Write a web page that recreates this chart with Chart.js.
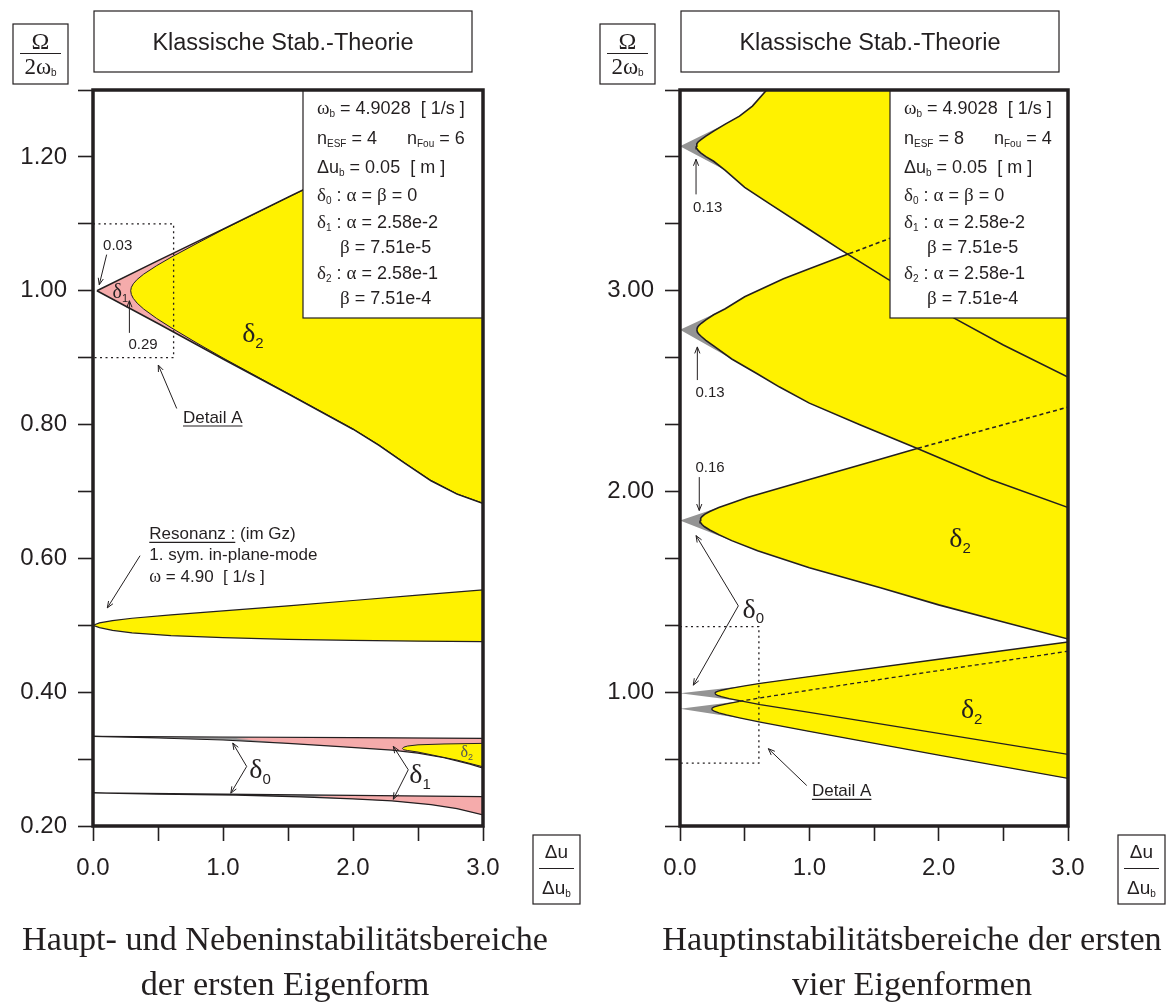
<!DOCTYPE html>
<html>
<head>
<meta charset="utf-8">
<script src="https://cdn.jsdelivr.net/npm/chart.js@4.4.0/dist/chart.umd.min.js"></script>
<style>
html, body { margin: 0; padding: 0; background: #fff; }
#wrap { position: relative; width: 1166px; height: 1005px; overflow: hidden; }
canvas { position: absolute; top: 0; }
#c1 { left: 0; }
#c2 { left: 583px; }
</style>
</head>
<body>
<div id="wrap">
  <canvas id="c1" width="583" height="1005" style="width:583px;height:1005px"></canvas>
  <canvas id="c2" width="583" height="1005" style="width:583px;height:1005px"></canvas>
</div>
<script>
// axes: x = du/du_b, y = Omega/(2 omega_b)
const xTicks = [0, 0.5, 1, 1.5, 2, 2.5, 3];
const xLabels = ['0.0', '', '1.0', '', '2.0', '', '3.0'];
const leftYTicks = [0.2, 0.3, 0.4, 0.5, 0.6, 0.7, 0.8, 0.9, 1.0, 1.1, 1.2, 1.3];
const leftYLabels = ['0.20', '', '0.40', '', '0.60', '', '0.80', '', '1.00', '', '1.20', ''];
const rightYTicks = [1/3, 2/3, 1, 4/3, 5/3, 2, 7/3, 8/3, 3, 10/3, 11/3, 4];
const rightYLabels = ['', '', '1.00', '', '', '2.00', '', '', '3.00', '', '', ''];

// left: erste Eigenform, Hauptbereich um 1.0 (delta1 aussen, delta2 innen)
const a1Up = [[0.03,1.0],[0.5,1.045],[1.0,1.092],[1.5,1.140],[2.0,1.187],[2.5,1.235],[3.0,1.282]];
const a1Lo = [[0.03,1.0],[0.5,0.951],[1.0,0.898],[1.5,0.846],[2.0,0.793],[2.2,0.769],[2.4,0.742],[2.6,0.716],[2.8,0.696],[3.0,0.682]];
const a2Up = [[0.29,1.0],[0.295,1.0051],[0.31,1.0104],[0.34,1.0169],[0.39,1.0248],[0.49,1.0375],[0.6,1.0499],[0.8,1.0708],[1.0,1.0912],[1.5,1.1393],[2.0,1.1866],[2.5,1.2346],[3.0,1.2816]];
const a2Lo = [[0.29,1.0],[0.295,0.9943],[0.31,0.9885],[0.34,0.9814],[0.39,0.9726],[0.49,0.9585],[0.6,0.9449],[0.8,0.9217],[1.0,0.8995],[1.5,0.8465],[2.0,0.7935],[2.2,0.7695],[2.4,0.7425],[2.6,0.7165],[2.8,0.6965],[3.0,0.6825]];
// Nebenbereich um 0.5
const bUp = [[0,0.5],[0.05,0.5035],[0.15,0.507],[0.3,0.5105],[0.6,0.5155],[1.0,0.5215],[1.5,0.529],[2.0,0.537],[2.5,0.545],[3.0,0.553]];
const bLo = [[0,0.5],[0.05,0.4965],[0.15,0.4925],[0.3,0.4885],[0.6,0.4845],[1.0,0.4815],[1.5,0.479],[2.0,0.4775],[2.5,0.4763],[3.0,0.4755]];
// Nebenbereich um 1/3
const c0Up = [[0,0.334],[1.0,0.333],[2.0,0.332],[3.0,0.331]];
const c0Lo = [[0,0.334],[0.5,0.3315],[1.0,0.3285],[1.5,0.3235],[1.9,0.3185],[2.3,0.3135],[2.5,0.309],[2.7,0.302],[2.9,0.2925],[3.0,0.2865]];
const c1Up = [[1.1,0.3305],[1.3,0.3325],[2.0,0.332],[3.0,0.331]];
const c1Lo = [[1.1,0.3305],[1.5,0.3235],[1.9,0.3185],[2.3,0.3135],[2.5,0.309],[2.7,0.302],[2.9,0.2925],[3.0,0.2865]];
const c2Up = [[2.38,0.3158],[2.39,0.3178],[2.42,0.3195],[2.5,0.3213],[2.7,0.3226],[3.0,0.3235]];
const c2Lo = [[2.38,0.3158],[2.39,0.3140],[2.42,0.3128],[2.5,0.3105],[2.6,0.3065],[2.8,0.2985],[3.0,0.2885]];
// Nebenbereich um 0.25
const d0Up = [[0,0.2495],[1.0,0.2475],[2.0,0.2457],[3.0,0.244]];
const d0Lo = [[0,0.2495],[0.5,0.2475],[1.1,0.2462],[1.6,0.2435],[2.0,0.2405],[2.3,0.2375],[2.6,0.232],[2.8,0.226],[3.0,0.2165]];
const d1Up = [[1.7,0.2445],[2.0,0.2457],[3.0,0.244]];
const d1Lo = [[1.7,0.2445],[2.0,0.2405],[2.3,0.2375],[2.6,0.232],[2.8,0.226],[3.0,0.2165]];

// right: erste vier Eigenformen (delta2 gelb)
const r1Up = [[0.27,0.995],[0.275,0.9994],[0.29,1.004],[0.32,1.0096],[0.38,1.0177],[0.5,1.031],[0.62,1.044],[1.0,1.078],[2.0,1.164],[3.0,1.25]];
const r1Lo = [[0.27,0.995],[0.275,0.9898],[0.29,0.9844],[0.32,0.9778],[0.38,0.9683],[0.5,0.953],[0.62,0.938],[1.0,0.899],[2.0,0.795],[3.0,0.69]];
const r2Up = [[0.245,0.917],[0.25,0.9218],[0.265,0.9267],[0.3,0.9336],[0.36,0.9423],[0.46,0.9543],[0.62,0.9717],[1.0,1.0101],[2.0,1.1076],[3.0,1.204]];
const r2Lo = [[0.245,0.917],[0.25,0.9112],[0.265,0.9053],[0.3,0.8969],[0.36,0.8864],[0.46,0.8719],[0.62,0.8509],[1.0,0.8045],[2.0,0.6867],[3.0,0.5702]];
const r3Up = [[0.155,1.855],[0.16,1.866],[0.17,1.875],[0.19,1.886],[0.23,1.9],[0.3,1.92],[0.4,1.942],[0.52,1.97],[1.0,2.06],[1.5,2.152],[1.84,2.215],[2.4,2.315],[3.0,2.42]];
const r3Lo = [[0.155,1.855],[0.16,1.844],[0.17,1.835],[0.19,1.824],[0.23,1.808],[0.3,1.785],[0.4,1.755],[0.6,1.705],[1.0,1.62],[1.55,1.52],[2.0,1.435],[2.5,1.35],[3.0,1.265]];
const r4Up = [[0.13,2.805],[0.135,2.817],[0.145,2.826],[0.165,2.838],[0.2,2.855],[0.26,2.88],[0.35,2.91],[0.5,2.97],[0.8,3.06],[1.0,3.11],[1.31,3.185],[1.62,3.26],[2.0,3.35],[3.0,3.58]];
const r4Lo = [[0.13,2.805],[0.135,2.793],[0.145,2.784],[0.165,2.772],[0.2,2.753],[0.26,2.725],[0.4,2.66],[0.6,2.585],[0.77,2.52],[1.0,2.44],[1.4,2.33],[1.84,2.213],[2.4,2.06],[3.0,1.92]];
const r5Up = [[0.125,3.72],[0.13,3.732],[0.14,3.741],[0.16,3.752],[0.2,3.77],[0.26,3.795],[0.35,3.83],[0.46,3.87],[0.56,3.92],[0.67,4.0],[1.0,4.2],[3.0,5.0]];
const r5Lo = [[0.125,3.72],[0.13,3.708],[0.14,3.699],[0.16,3.687],[0.2,3.668],[0.26,3.645],[0.35,3.6],[0.5,3.515],[0.7,3.43],[1.0,3.305],[1.24,3.205],[1.6,3.06],[2.13,2.86],[2.5,2.73],[3.0,2.57]];
// delta0 wedges: tip at du = 0, joining the delta2 border at grayJoin
const grayTips = [0.995, 0.917, 1.855, 2.805, 3.72];
const grayJoin = [0.45, 0.45, 0.4, 0.35, 0.35];
// where the upper border runs inside the neighbouring region (dashed)
const dashFrom = [null, 0.46, 1.84, 1.31, null];

const INK = '#231f20', YEL = '#fff200', PINK = '#f5abab', GRAY = '#949494';
const SANS = '"Liberation Sans", Arial, sans-serif';
const SERIF = '"Liberation Serif", "Times New Roman", serif';
const sans = s => s + 'px ' + SANS;
const serif = s => s + 'px ' + SERIF;
const sub = s => Math.round(s * 0.55) + 'px ' + SANS;

const loop = (up, lo, df) => up.map(p => ({x: p[0], y: p[1], d: df != null && p[0] > df}))
  .concat(lo.slice().reverse().map(p => ({x: p[0], y: p[1], d: false})));

const wedge = (tip, join, up, lo) => [{x: 0, y: tip}]
  .concat(up.filter(p => p[0] >= join).map(p => ({x: p[0], y: p[1]})))
  .concat(lo.filter(p => p[0] >= join).reverse().map(p => ({x: p[0], y: p[1]})));

// filled area only
function area(pts, color, order) {
  return {
    data: pts, showLine: true, fill: 'shape', order,
    backgroundColor: color, borderColor: 'rgba(0,0,0,0)', borderWidth: 1,
    pointRadius: 0, tension: 0
  };
}
// outline only
function edge(pts, bw) {
  return {
    data: pts, showLine: true, fill: false, order: 0,
    borderColor: INK, borderWidth: bw, pointRadius: 0, tension: 0,
    segment: { borderDash: c => (pts[c.p1DataIndex] && pts[c.p1DataIndex].d) ? [4, 3] : undefined }
  };
}

const la1 = loop(a1Up, a1Lo), la2 = loop(a2Up, a2Lo), lb = loop(bUp, bLo);
const lc0 = loop(c0Up, c0Lo), lc1 = loop(c1Up, c1Lo), lc2 = loop(c2Up, c2Lo);
const ld0 = loop(d0Up, d0Lo), ld1 = loop(d1Up, d1Lo);
const leftSets = [
  area(la2, YEL, 1), area(lb, YEL, 1), area(lc2, YEL, 1),
  area(la1, PINK, 2), area(lc1, PINK, 2), area(ld1, PINK, 2),
  area(lc0, GRAY, 3), area(ld0, GRAY, 3),
  edge(la1, 1.5), edge(la2, 1), edge(lb, 1.2), edge(lc0, 1.2), edge(lc2, 1), edge(ld0, 1.2)
];

const rUps = [r1Up, r2Up, r3Up, r4Up, r5Up];
const rLos = [r1Lo, r2Lo, r3Lo, r4Lo, r5Lo];
const rightSets = [];
rUps.forEach((u, i) => rightSets.push(area(loop(u, rLos[i]), YEL, 1)));
rUps.forEach((u, i) => rightSets.push(area(wedge(grayTips[i], grayJoin[i], u, rLos[i]), GRAY, 3)));
rUps.forEach((u, i) => rightSets.push(edge(loop(u, rLos[i], dashFrom[i]), i < 2 ? 1.3 : 1.6)));

// ---------- drawing helpers ----------
function rich(ctx, x, y, parts, align) {
  let w = 0;
  parts.forEach(p => { ctx.font = p[1]; w += ctx.measureText(p[0]).width; });
  let cx = align === 'center' ? x - w / 2 : (align === 'right' ? x - w : x);
  ctx.textAlign = 'left';
  ctx.textBaseline = 'alphabetic';
  parts.forEach(p => {
    ctx.font = p[1];
    ctx.fillText(p[0], cx, y + (p[2] || 0));
    cx += ctx.measureText(p[0]).width;
  });
  return w;
}

function arrow(ctx, x1, y1, x2, y2) {
  const h = 7, ang = Math.atan2(y2 - y1, x2 - x1);
  ctx.beginPath(); ctx.moveTo(x1, y1); ctx.lineTo(x2, y2); ctx.stroke();
  ctx.beginPath();
  ctx.moveTo(x2 - h * Math.cos(ang - 0.38), y2 - h * Math.sin(ang - 0.38));
  ctx.lineTo(x2, y2);
  ctx.lineTo(x2 - h * Math.cos(ang + 0.38), y2 - h * Math.sin(ang + 0.38));
  ctx.stroke();
}

function underlined(ctx, x, y, text, size) {
  const w = rich(ctx, x, y, [[text, sans(size)]], 'left');
  ctx.lineWidth = 1.2;
  ctx.beginPath(); ctx.moveTo(x, y + 3.5); ctx.lineTo(x + w, y + 3.5); ctx.stroke();
  return w;
}

function decor(o) {
  return {
    id: 'decor',
    afterDraw(chart) {
      const ctx = chart.ctx, a = chart.chartArea;
      const X = v => chart.scales.x.getPixelForValue(v);
      const Y = v => chart.scales.y.getPixelForValue(v);
      ctx.save();
      ctx.strokeStyle = INK; ctx.fillStyle = INK;

      // Detail A (dotted)
      ctx.lineWidth = 1.3; ctx.setLineDash([2, 3.5]);
      ctx.beginPath();
      ctx.moveTo(X(o.detail[0]), Y(o.detail[3])); ctx.lineTo(X(o.detail[1]), Y(o.detail[3]));
      ctx.lineTo(X(o.detail[1]), Y(o.detail[2])); ctx.lineTo(X(o.detail[0]), Y(o.detail[2]));
      ctx.stroke(); ctx.setLineDash([]);

      ctx.lineWidth = 1;
      o.arrows.forEach(r => arrow(ctx, X(r[0]), Y(r[1]), X(r[2]), Y(r[3])));
      o.nums.forEach(t => rich(ctx, X(t[1]), Y(t[2]) + 5.5, [[t[0], sans(15)]], 'center'));
      o.deltas.forEach(d => {
        ctx.fillStyle = d[4] || INK;
        rich(ctx, X(d[1]), Y(d[2]) + d[3] * 0.3, [['δ', serif(d[3])], [d[0], sub(d[3]), d[3] * 0.2]], 'center');
      });
      ctx.fillStyle = INK;
      underlined(ctx, X(o.dlab[0]), Y(o.dlab[1]) + 6, 'Detail A', 17);

      if (o.reso) {
        const rx = X(o.reso.x), ys = o.reso.ys.map(v => Y(v) + 6);
        const w = underlined(ctx, rx, ys[0], 'Resonanz :', 17);
        rich(ctx, rx + w, ys[0], [[' (im Gz)', sans(17)]], 'left');
        rich(ctx, rx, ys[1], [['1. sym. in-plane-mode', sans(17)]], 'left');
        rich(ctx, rx, ys[2], [['ω', serif(18)], [' = 4.90  [ 1/s ]', sans(17)]], 'left');
      }

      // info box
      const bx = a.left + 210, by = a.top;
      ctx.fillStyle = '#fff';
      ctx.fillRect(bx, by, a.right - bx, 228);
      ctx.lineWidth = 1.2;
      ctx.strokeRect(bx, by, a.right - bx, 228);
      ctx.fillStyle = INK;
      const tx = bx + 14, S = 18, G = 19;
      rich(ctx, tx, by + 24, [['ω', serif(G)], ['b', sub(S), 3], [' = 4.9028  [ 1/s ]', sans(S)]]);
      rich(ctx, tx, by + 54, [['n', sans(S)], ['ESF', sub(S), 3], [' = ' + o.nEsf, sans(S)]]);
      rich(ctx, tx + 90, by + 54, [['n', sans(S)], ['Fou', sub(S), 3], [' = ' + o.nFou, sans(S)]]);
      rich(ctx, tx, by + 83, [['Δu', sans(S)], ['b', sub(S), 3], [' = 0.05  [ m ]', sans(S)]]);
      rich(ctx, tx, by + 111, [['δ', serif(G)], ['0', sub(S), 3], [' : ', sans(S)], ['α', serif(G)], [' = ', sans(S)], ['β', serif(G)], [' = 0', sans(S)]]);
      rich(ctx, tx, by + 138, [['δ', serif(G)], ['1', sub(S), 3], [' : ', sans(S)], ['α', serif(G)], [' = 2.58e-2', sans(S)]]);
      rich(ctx, tx + 23, by + 163, [['β', serif(G)], [' = 7.51e-5', sans(S)]]);
      rich(ctx, tx, by + 189, [['δ', serif(G)], ['2', sub(S), 3], [' : ', sans(S)], ['α', serif(G)], [' = 2.58e-1', sans(S)]]);
      rich(ctx, tx + 23, by + 214, [['β', serif(G)], [' = 7.51e-4', sans(S)]]);

      // frame
      ctx.lineWidth = 3.5;
      ctx.strokeRect(a.left, a.top, a.right - a.left, a.bottom - a.top);

      // title box
      ctx.lineWidth = 1.2;
      ctx.strokeRect(a.left + 1, 11, 378, 61);
      rich(ctx, a.left + 190, 50, [['Klassische Stab.-Theorie', sans(23.5)]], 'center');

      // y label box  Omega / 2 omega_b
      const qx = a.left - 80;
      ctx.strokeRect(qx, 24, 55, 60);
      rich(ctx, qx + 27.5, 49, [['Ω', serif(24)]], 'center');
      ctx.beginPath(); ctx.moveTo(qx + 7, 53.5); ctx.lineTo(qx + 48, 53.5); ctx.stroke();
      rich(ctx, qx + 27.5, 74, [['2ω', serif(23)], ['b', sub(18), 2]], 'center');

      // x label box  du / du_b
      const ux = a.right + 50;
      ctx.strokeRect(ux, 835, 47, 69);
      rich(ctx, ux + 23.5, 858, [['Δu', sans(19)]], 'center');
      ctx.beginPath(); ctx.moveTo(ux + 6, 868.5); ctx.lineTo(ux + 41, 868.5); ctx.stroke();
      rich(ctx, ux + 23.5, 894, [['Δu', sans(19)], ['b', sub(19), 3]], 'center');

      // caption
      ctx.font = serif(100);
      const fs = 100 * 526 / ctx.measureText('Haupt- und Nebeninstabilitätsbereiche').width;
      rich(ctx, o.capX, 940 + fs * 0.3, [[o.cap[0], serif(fs)]], 'center');
      rich(ctx, o.capX, 985 + fs * 0.3, [[o.cap[1], serif(fs)]], 'center');
      ctx.restore();
    }
  };
}

function makeChart(id, sets, yTicks, yLabels, yMin, yMax, axisW, padRight, o) {
  return new Chart(document.getElementById(id), {
    type: 'scatter',
    data: { datasets: sets },
    options: {
      responsive: false, animation: false, events: [],
      layout: { padding: { left: 0, right: padRight, top: 90, bottom: 0 } },
      plugins: { legend: { display: false }, tooltip: { enabled: false }, filler: { drawTime: 'beforeDatasetsDraw' } },
      scales: {
        x: {
          type: 'linear', min: 0, max: 3, bounds: 'data',
          afterBuildTicks: s => { s.ticks = xTicks.map(v => ({ value: v })); },
          afterFit: s => { s.height = 179; },
          grid: { drawOnChartArea: false, tickLength: 15, tickWidth: 1.6, tickColor: INK },
          border: { display: false },
          ticks: { autoSkip: false, maxRotation: 0, padding: 13, color: INK, font: { family: SANS, size: 24 },
                   callback: (v, i) => xLabels[i] }
        },
        y: {
          type: 'linear', min: yMin, max: yMax, bounds: 'data',
          afterBuildTicks: s => { s.ticks = yTicks.map(v => ({ value: v })); },
          afterFit: s => { s.width = axisW; },
          grid: { drawOnChartArea: false, tickLength: 15, tickWidth: 1.6, tickColor: INK },
          border: { display: false },
          ticks: { autoSkip: false, padding: 11, color: INK, font: { family: SANS, size: 24 },
                   callback: (v, i) => yLabels[i] }
        }
      }
    },
    plugins: [decor(o)]
  });
}

makeChart('c1', leftSets, leftYTicks, leftYLabels, 0.2, 1.3, 93, 100, {
  detail: [0, 0.62, 0.9, 1.1],
  arrows: [[0.105,1.054,0.048,1.009],[0.28,0.937,0.28,0.985],[0.644,0.824,0.502,0.889],[0.362,0.604,0.11,0.526],
           [1.182,0.289,1.075,0.324],[1.182,0.289,1.06,0.249],[2.425,0.284,2.31,0.319],[2.425,0.284,2.31,0.24]],
  nums: [['0.03',0.19,1.069],['0.29',0.385,0.921]],
  deltas: [['1',0.21,0.998,20],['2',1.23,0.936,28],['0',1.285,0.284,28],['1',2.515,0.2765,28],['2',2.875,0.311,16,'#555']],
  dlab: [0.692, 0.812],
  reso: { x: 0.433, ys: [0.638, 0.606, 0.573] },
  nEsf: '4', nFou: '6',
  capX: 285, cap: ['Haupt- und Nebeninstabilitätsbereiche', 'der ersten Eigenform']
});

makeChart('c2', rightSets, rightYTicks, rightYLabels, 1/3, 4, 97, 98, {
  detail: [0, 0.61, 0.647, 1.327],
  arrows: [[0.124,3.48,0.124,3.655],[0.134,2.555,0.134,2.72],[0.149,2.0715,0.149,1.905],
           [0.451,1.43,0.124,1.78],[0.451,1.43,0.103,1.035],[0.98,0.535,0.683,0.7185]],
  nums: [['0.13',0.214,3.42],['0.13',0.232,2.4965],['0.16',0.232,2.1265]],
  deltas: [['0',0.567,1.4135,28],['2',2.165,1.7635,28],['2',2.255,0.9135,28]],
  dlab: [1.02, 0.5135],
  reso: null,
  nEsf: '8', nFou: '4',
  capX: 329, cap: ['Hauptinstabilitätsbereiche der ersten', 'vier Eigenformen']
});
</script>
</body>
</html>
